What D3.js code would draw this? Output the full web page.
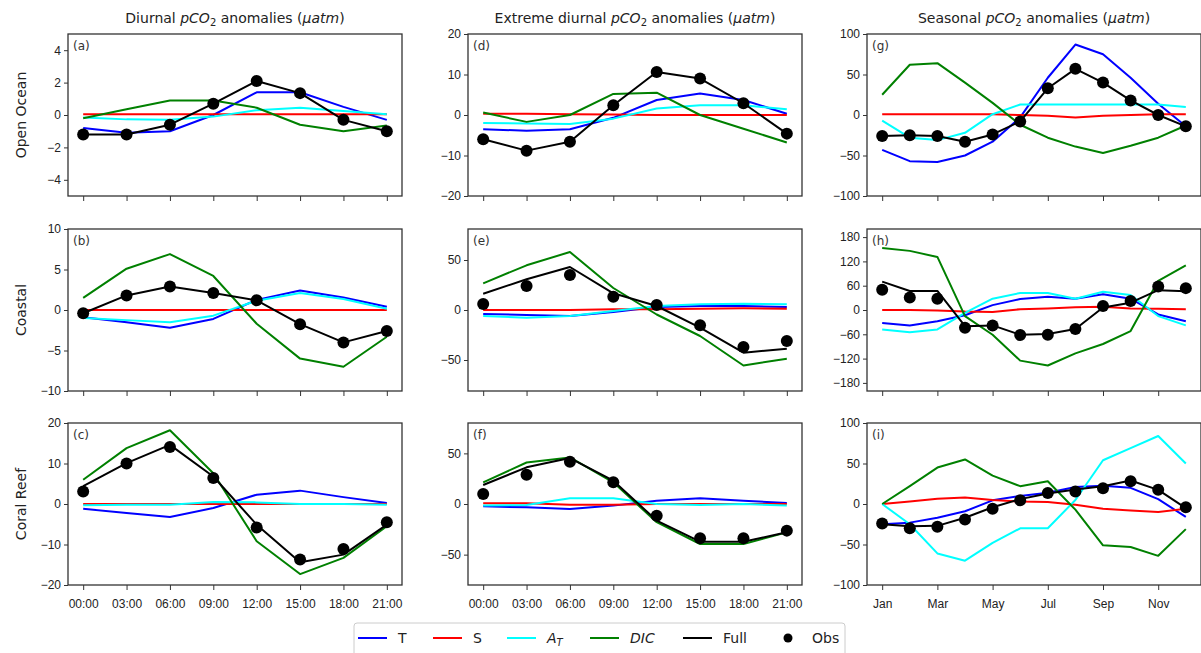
<!DOCTYPE html>
<html>
<head>
<meta charset="utf-8">
<script src="https://cdn.jsdelivr.net/npm/d3@7"></script>
<style>
  body { margin: 0; background: #fff; }
  svg { font-family: "DejaVu Sans", sans-serif; }
  .tick text { fill: #222; font-size: 12px; }
  .tick line { stroke: #333; }
  .domain { stroke: none; }
</style>
</head>
<body>
<div id="chart"></div>
<script>
// x values
const hours = [0, 3, 6, 9, 12, 15, 18, 21];
const hourLabels = ["00:00", "03:00", "06:00", "09:00", "12:00", "15:00", "18:00", "21:00"];
const months = ["Jan", "Feb", "Mar", "Apr", "May", "Jun", "Jul", "Aug", "Sep", "Oct", "Nov", "Dec"];
const monthTicks = [0, 2, 4, 6, 8, 10];

const rowNames = ["Open Ocean", "Coastal", "Coral Reef"];

// (a) diurnal, open ocean
const a_T    = [-0.8, -1.1, -1.0, 0.0, 1.4, 1.4, 0.5, -0.3];
const a_S    = [0.05, 0.05, 0.05, 0.05, 0.05, 0.05, 0.05, 0.05];
const a_AT   = [-0.15, -0.27, -0.3, -0.1, 0.3, 0.45, 0.25, 0.05];
const a_DIC  = [-0.2, 0.35, 0.9, 0.9, 0.45, -0.6, -1.0, -0.65];
const a_Full = [-1.2, -1.2, -0.6, 0.7, 2.1, 1.35, -0.3, -1.0];
const a_Obs  = [-1.2, -1.2, -0.6, 0.7, 2.1, 1.35, -0.3, -1.0];

// (d) extreme diurnal, open ocean
const d_T    = [-3.5, -3.9, -3.5, -0.7, 3.7, 5.3, 3.7, 0.3];
const d_S    = [0.3, 0.3, 0.2, 0.1, 0.0, 0.0, 0.0, 0.0];
const d_AT   = [-2.0, -2.1, -2.2, -0.9, 1.6, 2.4, 2.4, 1.4];
const d_DIC  = [0.6, -1.7, 0.0, 5.2, 5.5, 0.0, -3.4, -6.8];
const d_Full = [-6.0, -8.8, -6.6, 2.4, 10.6, 9.0, 2.9, -4.6];
const d_Obs  = [-6.0, -8.8, -6.6, 2.4, 10.6, 9.0, 2.9, -4.6];

// (g) seasonal, open ocean
const g_T    = [-43, -57, -58, -50, -33, -3, 46, 87, 75, 46, 14, -14];
const g_S    = [1, 1, 1, 1, 1, 0, -1, -3, -1, 0, 1, 1];
const g_AT   = [-7, -28, -31, -22, 1, 13, 13, 13, 13, 13, 13, 10];
const g_DIC  = [25, 62, 64, 40, 15, -12, -28, -39, -47, -38, -28, -13];
const g_Full = [-26, -25, -26, -33, -24, -8, 33, 57, 40, 18, 0, -14];
const g_Obs  = [-26, -25, -26, -33, -24, -8, 33, 57, 40, 18, 0, -14];

// (b) diurnal, coastal
const b_T    = [-0.9, -1.5, -2.2, -1.1, 1.25, 2.4, 1.55, 0.4];
const b_S    = [0, 0, 0, 0, 0, 0, 0, 0];
const b_AT   = [-1.0, -1.25, -1.5, -0.7, 1.15, 2.1, 1.35, 0.15];
const b_DIC  = [1.5, 5.1, 6.9, 4.2, -1.7, -6.0, -7.0, -3.3];
const b_Full = [-0.4, 1.8, 2.9, 2.1, 1.2, -1.75, -4.0, -2.6];
const b_Obs  = [-0.4, 1.8, 2.9, 2.1, 1.2, -1.75, -4.0, -2.6];

// (e) extreme diurnal, coastal
const e_T    = [-4, -5, -6, -2, 3, 4, 4, 3];
const e_S    = [0, 0, 0, 0.7, 0.7, 1.3, 1.7, 1.3];
const e_AT   = [-6, -7.7, -6, -1, 4, 5.7, 6.3, 5.7];
const e_DIC  = [26.7, 44.7, 58, 22, -4.5, -26, -55.5, -48.7];
const e_Full = [16.3, 30.7, 43, 16.7, 4, -17.7, -42.7, -38.7];
const e_Obs  = [6, 24, 35, 13.3, 5, -15.3, -37, -31];

// (h) seasonal, coastal
const h_T    = [-32, -38, -28, -13, 12, 27, 33, 28, 39, 28, -11, -28];
const h_S    = [0, 0, -1, -4, -5, 2, 4, 7, 8, 4, 3, 2];
const h_AT   = [-48, -55, -48, -7, 28, 42, 42, 28, 45, 37, -15, -38];
const h_DIC  = [153, 146, 131, -15, -61, -125, -137, -107, -84, -52, 72, 110];
const h_Full = [70, 47, 47, -40, -38, -61, -59, -47, 6, 18, 49, 46];
const h_Obs  = [50, 31, 28, -44, -38, -62, -61, -47, 10, 22, 58, 54];

// (c) diurnal, coral reef
const c_T    = [-1.2, -2.2, -3.2, -1.0, 2.3, 3.3, 1.7, 0.25];
const c_S    = [0, 0, 0, 0, 0, 0, 0, 0];
const c_AT   = [-0.3, -0.2, -0.2, 0.5, 0.4, 0, 0, -0.2];
const c_DIC  = [6.0, 13.8, 18.2, 7.6, -9.2, -17.3, -13.3, -5.5];
const c_Full = [4.4, 10.1, 14.6, 6.8, -5.1, -14.4, -12.5, -5.1];
const c_Obs  = [3.1, 10.0, 14.1, 6.4, -5.8, -13.7, -11.1, -4.5];

// (f) extreme diurnal, coral reef
const f_T    = [-2.3, -3.3, -4.9, -1.6, 3.3, 5.6, 3.3, 1.0];
const f_S    = [0.7, 0.7, -0.7, -0.7, 0, 0, 0, 0];
const f_AT   = [-1.6, -1.0, 5.6, 5.6, 0, -1.0, 0, -1.6];
const f_DIC  = [21.4, 41, 46, 21.4, -18, -39.5, -39.5, -28];
const f_Full = [18.8, 36.2, 45.4, 23, -16.4, -37.2, -37.2, -28];
const f_Obs  = [9.9, 28.9, 41.8, 21.4, -11.5, -33.9, -33.9, -26.3];

// (i) seasonal, coral reef
const i_T    = [-25, -23, -17, -9, 4.5, 10, 14, 21, 22.5, 20, 6, -16];
const i_S    = [0, 3, 6.5, 8, 5, 3, 2.5, -1, -6, -8, -10, -6];
const i_AT   = [0, -25, -61, -70, -48, -30, -30, 5, 54, 69, 84, 50];
const i_DIC  = [0, 22, 45, 55, 35, 22, 28, -7, -51, -53, -64, -31];
const i_Full = [-25, -27.5, -27, -17, -4, 6, 13, 18, 22, 29, 17.5, -5];
const i_Obs  = [-24, -30, -28, -19, -6, 4.5, 13.5, 15.5, 19.5, 28, 17.5, -4];

const yTicks = {
  a: [-4, -2, 0, 2, 4], d: [-20, -10, 0, 10, 20], g: [-100, -50, 0, 50, 100],
  b: [-10, -5, 0, 5, 10], e: [-50, 0, 50], h: [-180, -120, -60, 0, 60, 120, 180],
  c: [-20, -10, 0, 10, 20], f: [-50, 0, 50], i: [-100, -50, 0, 50, 100]
};
const yDomains = {
  a: [-5, 5], d: [-20, 20], g: [-100, 100],
  b: [-10, 10], e: [-81, 81], h: [-200, 200],
  c: [-20, 20], f: [-80, 80], i: [-100, 100]
};

const panels = [
  {id: "a", row: 0, col: 0, T: a_T, S: a_S, AT: a_AT, DIC: a_DIC, Full: a_Full, Obs: a_Obs},
  {id: "d", row: 0, col: 1, T: d_T, S: d_S, AT: d_AT, DIC: d_DIC, Full: d_Full, Obs: d_Obs},
  {id: "g", row: 0, col: 2, T: g_T, S: g_S, AT: g_AT, DIC: g_DIC, Full: g_Full, Obs: g_Obs},
  {id: "b", row: 1, col: 0, T: b_T, S: b_S, AT: b_AT, DIC: b_DIC, Full: b_Full, Obs: b_Obs},
  {id: "e", row: 1, col: 1, T: e_T, S: e_S, AT: e_AT, DIC: e_DIC, Full: e_Full, Obs: e_Obs},
  {id: "h", row: 1, col: 2, T: h_T, S: h_S, AT: h_AT, DIC: h_DIC, Full: h_Full, Obs: h_Obs},
  {id: "c", row: 2, col: 0, T: c_T, S: c_S, AT: c_AT, DIC: c_DIC, Full: c_Full, Obs: c_Obs},
  {id: "f", row: 2, col: 1, T: f_T, S: f_S, AT: f_AT, DIC: f_DIC, Full: f_Full, Obs: f_Obs},
  {id: "i", row: 2, col: 2, T: i_T, S: i_S, AT: i_AT, DIC: i_DIC, Full: i_Full, Obs: i_Obs}
];

const seriesColors = {T: "#0000ff", S: "#ff0000", AT: "#00ffff", DIC: "#008000", Full: "#000000"};
const seriesKeys = ["T", "S", "AT", "DIC", "Full"];

const width = 1201, height = 653;
const colLeft = [68, 468, 867], axW = 334;
const rowTop = [34, 229, 423], axH = 162;

const svg = d3.select("#chart").append("svg")
  .attr("width", width).attr("height", height);

// column titles
const titles = ["Diurnal ", "Extreme diurnal ", "Seasonal "];
titles.forEach(function(t, ci) {
  const tx = svg.append("text")
    .attr("x", colLeft[ci] + axW / 2).attr("y", 23)
    .attr("text-anchor", "middle")
    .style("font-size", "14px").attr("fill", "#222");
  tx.append("tspan").text(t);
  tx.append("tspan").style("font-style", "italic").text("pCO");
  tx.append("tspan").attr("baseline-shift", "-25%").style("font-size", "10px").text("2");
  tx.append("tspan").text(" anomalies (");
  tx.append("tspan").style("font-style", "italic").text("\u03bcatm");
  tx.append("tspan").text(")");
});

// row labels
rowNames.forEach(function(n, ri) {
  svg.append("text")
    .attr("transform", "translate(26," + (rowTop[ri] + axH / 2) + ") rotate(-90)")
    .attr("text-anchor", "middle")
    .style("font-size", "14px").attr("fill", "#222")
    .text(n);
});

panels.forEach(function(p) {
  const seasonal = p.col === 2;
  const xs = seasonal ? d3.range(12) : hours;
  const x = d3.scaleLinear()
    .domain(seasonal ? [-0.55, 11.55] : [-1.05, 22.05])
    .range([0, axW]);
  const y = d3.scaleLinear().domain(yDomains[p.id]).range([axH, 0]);

  const g = svg.append("g")
    .attr("transform", "translate(" + colLeft[p.col] + "," + rowTop[p.row] + ")");

  const xAxis = seasonal
    ? d3.axisBottom(x).tickValues(monthTicks).tickFormat(function(d) { return months[d]; })
    : d3.axisBottom(x).tickValues(hours).tickFormat(function(d, i) { return hourLabels[i]; });
  xAxis.tickSize(5).tickPadding(9);
  const xg = g.append("g").attr("transform", "translate(0," + axH + ")").call(xAxis);
  if (p.row < 2) xg.selectAll("text").remove();

  g.append("g").call(d3.axisLeft(y).tickValues(yTicks[p.id]).tickSize(4).tickPadding(3));

  const clip = "clip-" + p.id;
  g.append("clipPath").attr("id", clip)
    .append("rect").attr("width", axW).attr("height", axH);
  const plot = g.append("g").attr("clip-path", "url(#" + clip + ")");

  seriesKeys.forEach(function(k) {
    const line = d3.line()
      .x(function(d, i) { return x(xs[i]); })
      .y(function(d) { return y(d); });
    plot.append("path")
      .datum(p[k])
      .attr("d", line)
      .attr("fill", "none")
      .attr("stroke", seriesColors[k])
      .attr("stroke-width", 2)
      .attr("stroke-linejoin", "round");
  });

  plot.selectAll("circle.obs")
    .data(p.Obs)
    .enter().append("circle")
    .attr("class", "obs")
    .attr("cx", function(d, i) { return x(xs[i]); })
    .attr("cy", function(d) { return y(d); })
    .attr("r", 6)
    .attr("fill", "#000");

  g.append("rect")
    .attr("width", axW).attr("height", axH)
    .attr("fill", "none").attr("stroke", "#333").attr("stroke-width", 1.3);

  g.append("text")
    .attr("x", 5).attr("y", 16)
    .style("font-size", "12px").attr("fill", "#333")
    .text("(" + p.id + ")");
});

// legend
const legendItems = [
  {key: "T", x: 358, label: "T"},
  {key: "S", x: 433, label: "S"},
  {key: "AT", x: 507, label: "A"},
  {key: "DIC", x: 590, label: "DIC"},
  {key: "Full", x: 683, label: "Full"},
  {key: "Obs", x: 774, label: "Obs"}
];
const legY = 638;
svg.append("rect")
  .attr("x", 354).attr("y", 623).attr("width", 491).attr("height", 40)
  .attr("rx", 3).attr("fill", "#fff").attr("stroke", "#ccc").attr("stroke-width", 1);

legendItems.forEach(function(it) {
  if (it.key === "Obs") {
    svg.append("circle").attr("cx", it.x + 14).attr("cy", legY).attr("r", 4.5).attr("fill", "#000");
  } else {
    svg.append("line")
      .attr("x1", it.x).attr("x2", it.x + 29)
      .attr("y1", legY).attr("y2", legY)
      .attr("stroke", seriesColors[it.key]).attr("stroke-width", 2);
  }
  const t = svg.append("text")
    .attr("x", it.key === "Obs" ? it.x + 38 : it.x + 40).attr("y", legY + 5)
    .style("font-size", "14px").attr("fill", "#222");
  if (it.key === "AT") {
    t.append("tspan").style("font-style", "italic").text("A");
    t.append("tspan").style("font-style", "italic").style("font-size", "10px")
      .attr("baseline-shift", "-25%").text("T");
  } else if (it.key === "DIC") {
    t.style("font-style", "italic").text(it.label);
  } else {
    t.text(it.label);
  }
});
</script>
</body>
</html>
